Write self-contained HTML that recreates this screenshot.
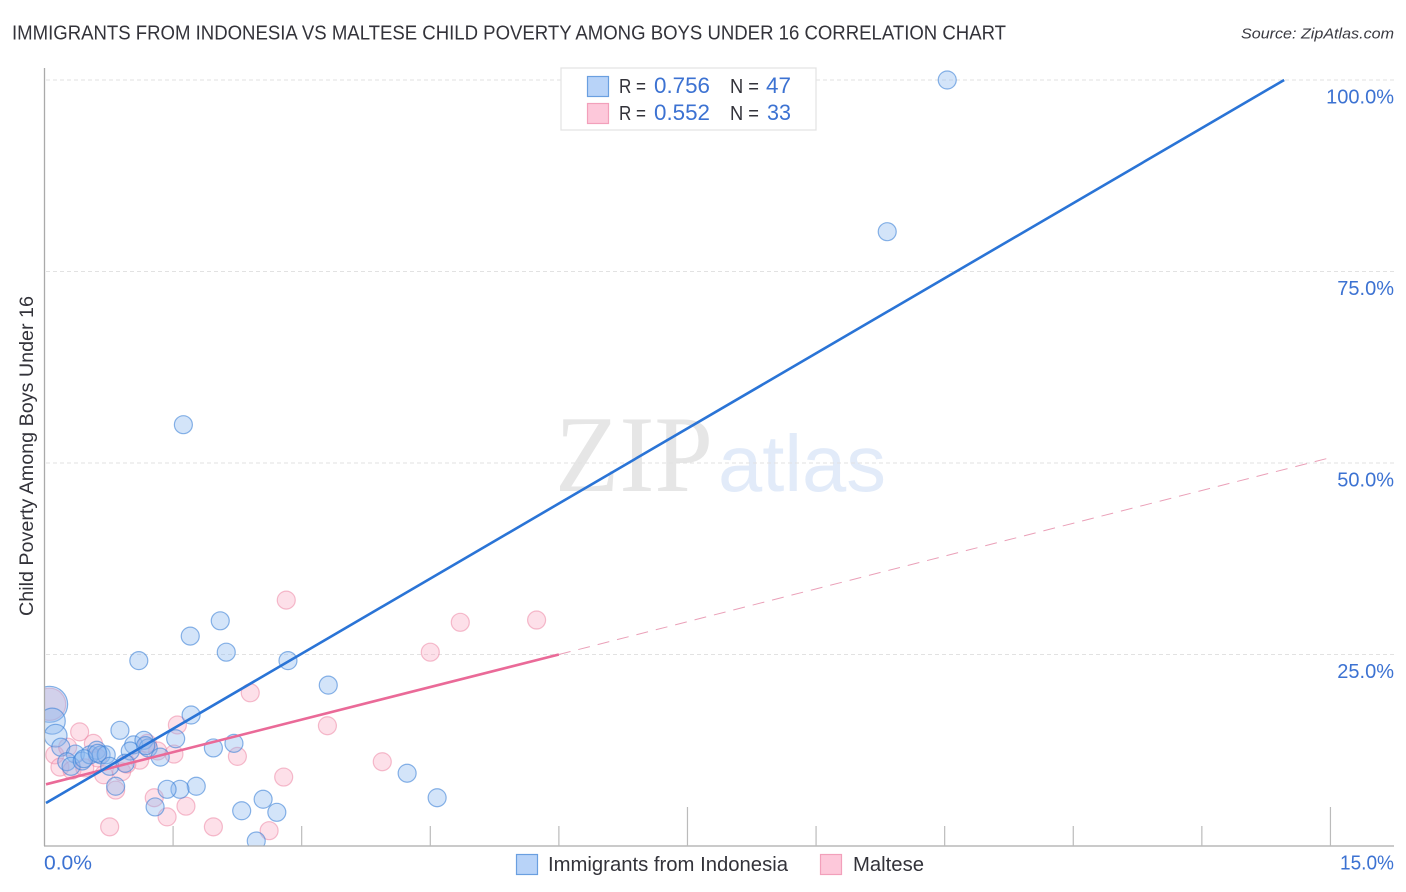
<!DOCTYPE html>
<html lang="en">
<head>
<meta charset="utf-8">
<title>Immigrants from Indonesia vs Maltese Child Poverty Among Boys Under 16 Correlation Chart</title>
<style>
html,body{margin:0;padding:0;background:#fff;}
body{width:1406px;height:892px;overflow:hidden;}
svg{display:block;}
text{font-family:"Liberation Sans",sans-serif;}
.blue{fill:#3c72d2;}
.dark{fill:#33333a;}
</style>
</head>
<body>
<svg id="chart" width="1406" height="892" viewBox="0 0 1406 892" xmlns="http://www.w3.org/2000/svg">
<defs><clipPath id="plot-clip"><rect x="45" y="68" width="1349" height="778"/></clipPath></defs>
<text class="dark" x="12" y="39.5" font-size="20" textLength="994" lengthAdjust="spacingAndGlyphs">IMMIGRANTS FROM INDONESIA VS MALTESE CHILD POVERTY AMONG BOYS UNDER 16 CORRELATION CHART</text>
<text x="1241" y="38.5" font-size="15" font-style="italic" fill="#3a3a42" textLength="153" lengthAdjust="spacingAndGlyphs">Source: ZipAtlas.com</text>
<text x="555" y="491" font-size="109" fill="#e6e6e6" style="font-family:'Liberation Serif',serif" textLength="158" lengthAdjust="spacingAndGlyphs">ZIP</text>
<text x="718" y="491" font-size="80" fill="#e2ebf9" textLength="168" lengthAdjust="spacingAndGlyphs">atlas</text>
<g id="grid"></g>
<g id="points" clip-path="url(#plot-clip)"></g>
<g id="trends"></g>
<g id="axes"></g>
<g id="y-labels"></g>
<text class="dark" transform="translate(33,616) rotate(-90)" font-size="19" textLength="320" lengthAdjust="spacingAndGlyphs">Child Poverty Among Boys Under 16</text>
<text class="blue" x="44" y="869.5" font-size="20" textLength="48" lengthAdjust="spacingAndGlyphs">0.0%</text>
<text class="blue" x="1340" y="869.5" font-size="20" textLength="54" lengthAdjust="spacingAndGlyphs">15.0%</text>

<g>
<rect x="561" y="68" width="255" height="62" fill="#fff" stroke="#e2e2e2" stroke-width="1.2"/>
<rect x="587.5" y="76.5" width="21" height="20" fill="#b8d3f8" stroke="#6a9fe0" stroke-width="1.2"/>
<rect x="587.5" y="103.5" width="21" height="20" fill="#fdc8da" stroke="#f2a0bb" stroke-width="1.2"/>
<text class="dark" x="619" y="93" font-size="20" textLength="27" lengthAdjust="spacingAndGlyphs">R =</text>
<text class="blue" x="654" y="93" font-size="22" textLength="56" lengthAdjust="spacingAndGlyphs">0.756</text>
<text class="dark" x="730" y="93" font-size="20" textLength="29" lengthAdjust="spacingAndGlyphs">N =</text>
<text class="blue" x="766" y="93" font-size="22" textLength="25" lengthAdjust="spacingAndGlyphs">47</text>
<text class="dark" x="619" y="120" font-size="20" textLength="27" lengthAdjust="spacingAndGlyphs">R =</text>
<text class="blue" x="654" y="120" font-size="22" textLength="56" lengthAdjust="spacingAndGlyphs">0.552</text>
<text class="dark" x="730" y="120" font-size="20" textLength="29" lengthAdjust="spacingAndGlyphs">N =</text>
<text class="blue" x="767" y="120" font-size="22" textLength="24" lengthAdjust="spacingAndGlyphs">33</text>
</g>

<g>
<rect x="516.5" y="854.5" width="21" height="20" fill="#b8d3f8" stroke="#6a9fe0" stroke-width="1.2"/>
<text class="dark" x="548" y="871" font-size="20" textLength="240" lengthAdjust="spacingAndGlyphs">Immigrants from Indonesia</text>
<rect x="820.5" y="854.5" width="21" height="20" fill="#fdc8da" stroke="#f2a0bb" stroke-width="1.2"/>
<text class="dark" x="853" y="871" font-size="20" textLength="71" lengthAdjust="spacingAndGlyphs">Maltese</text>
</g>
</svg>
<script>
const yTickValues = [100, 75, 50, 25];
const yTickLabels = ["100.0%", "75.0%", "50.0%", "25.0%"];
const xTickValues = [1.5, 3, 4.5, 6, 7.5, 9, 10.5, 12, 13.5, 15];
const xMajorTicks = [7.5, 15];

const indonesiaX = [10.53, 9.83, 1.62, 2.05, 1.70, 2.12, 1.10, 2.84, 3.31, 0.06, 0.09, 1.71, 0.88, 0.13, 0.19, 1.04, 1.16, 1.53, 2.21, 1.00, 1.21, 1.35, 1.97, 4.23, 4.58, 1.77, 1.58, 1.43, 0.83, 1.29, 2.30, 2.55, 2.71, 2.47, 0.36, 0.26, 0.31, 0.44, 0.53, 0.61, 0.66, 0.72, 0.76, 0.94, 0.46, 0.62, 1.18];
const indonesiaY = [100, 80.2, 55, 29.4, 27.4, 25.3, 24.2, 24.2, 21, 18.5, 16.3, 17.1, 15.1, 14.4, 12.9, 13.2, 13.8, 14, 13.4, 12.4, 12.8, 11.6, 12.8, 9.5, 6.3, 7.8, 7.4, 7.4, 7.8, 5.1, 4.6, 6.1, 4.4, 0.65, 12, 11, 10.4, 11.1, 11.9, 12.5, 11.9, 11.9, 10.4, 10.8, 11.4, 12.1, 13.1];
const indonesiaSize = [1, 1, 1, 1, 1, 1, 1, 1, 1, 4, 2.1, 1, 1, 1.6, 1, 1, 1, 1, 1, 1, 1, 1, 1, 1, 1, 1, 1, 1, 1, 1, 1, 1, 1, 1, 1, 1, 1, 1, 1, 1, 1, 1, 1, 1, 1, 1, 1];

const malteseX = [2.82, 4.85, 5.74, 4.50, 2.40, 1.55, 3.30, 0.06, 0.41, 0.57, 0.12, 0.27, 0.18, 0.32, 0.69, 0.90, 1.11, 0.96, 1.32, 1.51, 1.20, 2.25, 3.94, 2.79, 0.83, 1.28, 1.65, 1.43, 1.97, 0.76, 2.62, 0.62, 0.47];
const malteseY = [32.1, 29.2, 29.5, 25.3, 20, 15.8, 15.7, 18.5, 14.9, 13.4, 11.9, 12.9, 10.3, 9.9, 9.3, 9.7, 11.2, 10.7, 12.4, 12, 13.4, 11.7, 11, 9, 7.3, 6.3, 5.2, 3.8, 2.5, 2.5, 2, 11.5, 10.2];
const malteseSize = [1, 1, 1, 1, 1, 1, 1, 3.2, 1, 1, 1, 1, 1, 1, 1, 1, 1, 1, 1, 1, 1, 1, 1, 1, 1, 1, 1, 1, 1, 1, 1, 1, 1];

const indonesiaTrendX = [0, 14.46];
const indonesiaTrendY = [5.5, 100];
const malteseTrendX = [0, 6];
const malteseTrendY = [8, 25];
const malteseDashX = [6, 15];
const malteseDashY = [25, 50.7];

const NS = "http://www.w3.org/2000/svg";
function xScale(v) { return 44.5 + v * 85.73; }
function yScale(v) { return 846 - v * 7.66; }
function radius(s) { return 9 * Math.sqrt(s); }
function make(tag, parent, attrs) {
  const el = document.createElementNS(NS, tag);
  for (const k in attrs) el.setAttribute(k, attrs[k]);
  parent.appendChild(el);
  return el;
}

const grid = document.getElementById("grid");
const yLabels = document.getElementById("y-labels");
yTickValues.forEach(function (v, i) {
  const line = make("line", grid, { x1: 46, x2: 1394, y1: yScale(v), y2: yScale(v), stroke: "#e2e2e2", "stroke-width": 1, "stroke-dasharray": "4 3" });
  
  
  const label = make("text", yLabels, { x: 1394, y: yScale(v) + 23.5, "font-size": 20, "text-anchor": "end", class: "blue" });
  
  
  label.textContent = yTickLabels[i];
});

const pointsGroup = document.getElementById("points");
function drawSeries(xs, ys, sizes, fill, stroke) {
  xs.forEach(function (x, i) {
    const c = make("circle", pointsGroup, { cx: xScale(x), cy: yScale(ys[i]), r: radius(sizes[i]), fill: fill, stroke: stroke, "stroke-width": 1.2 });
    
    
  });
}
drawSeries(malteseX, malteseY, malteseSize, "rgba(250,170,195,0.36)", "rgba(236,130,162,0.52)");
drawSeries(indonesiaX, indonesiaY, indonesiaSize, "rgba(140,185,240,0.38)", "rgba(62,130,215,0.6)");

const trends = document.getElementById("trends");
const dash = make("line", trends, { x1: xScale(malteseDashX[0]), y1: yScale(malteseDashY[0]), x2: xScale(malteseDashX[1]), y2: yScale(malteseDashY[1]), stroke: "#eaa0b8", "stroke-width": 1, "stroke-dasharray": "12 8" });


const pinkLine = make("line", trends, { x1: xScale(malteseTrendX[0]) + 1.5, y1: yScale(malteseTrendY[0]) - 0.4, x2: xScale(malteseTrendX[1]), y2: yScale(malteseTrendY[1]), stroke: "#ea6a98", "stroke-width": 2.6 });


const blueLine = make("line", trends, { x1: xScale(indonesiaTrendX[0]) + 1.5, y1: yScale(indonesiaTrendY[0]) - 0.9, x2: xScale(indonesiaTrendX[1]), y2: yScale(indonesiaTrendY[1]), stroke: "#2a74d6", "stroke-width": 2.6 });



const axes = document.getElementById("axes");
const yAxis = make("line", axes, { x1: 44.5, x2: 44.5, y1: 68, y2: 846, stroke: "#aaaaaa", "stroke-width": 1.3 });


const xAxis = make("line", axes, { x1: 44, x2: 1394, y1: 846, y2: 846, stroke: "#aaaaaa", "stroke-width": 1.3 });


xTickValues.forEach(function (v) {
  const top = xMajorTicks.indexOf(v) >= 0 ? 807 : 826;
  const tick = make("line", axes, { x1: xScale(v), x2: xScale(v), y1: top, y2: 846, stroke: "#bbbbbb", "stroke-width": 1.2 });
  
  
});
</script>
</body>
</html>
